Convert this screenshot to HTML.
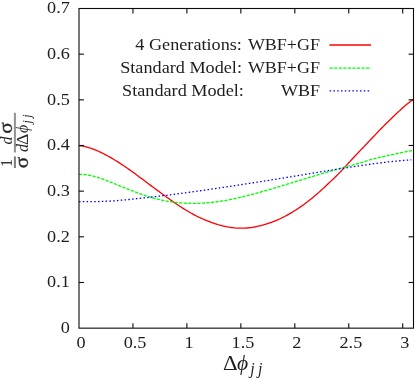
<!DOCTYPE html>
<html><head><meta charset="utf-8"><style>
html,body{margin:0;padding:0;background:#fff;}
svg{display:block;font-family:"Liberation Serif",serif;}
</style></head><body>
<svg width="415" height="379" viewBox="0 0 415 379">
<rect width="415" height="379" fill="#fff"/>
<g fill="none" stroke-width="1.3" stroke-linecap="butt">
<path d="M79.00,145.60 L80.29,145.73 L81.58,145.91 L82.87,146.13 L84.16,146.39 L85.45,146.68 L86.74,147.02 L88.04,147.39 L89.33,147.78 L90.62,148.21 L91.91,148.65 L93.20,149.13 L94.49,149.63 L95.78,150.15 L97.07,150.69 L98.36,151.25 L99.65,151.84 L100.94,152.44 L102.23,153.07 L103.52,153.71 L104.81,154.37 L106.11,155.05 L107.40,155.75 L108.69,156.46 L109.98,157.19 L111.27,157.93 L112.56,158.68 L113.85,159.45 L115.14,160.24 L116.43,161.03 L117.72,161.84 L119.01,162.66 L120.30,163.50 L121.59,164.34 L122.88,165.20 L124.18,166.06 L125.47,166.94 L126.76,167.83 L128.05,168.73 L129.34,169.63 L130.63,170.55 L131.92,171.47 L133.21,172.40 L134.50,173.34 L135.79,174.28 L137.08,175.24 L138.37,176.19 L139.66,177.15 L140.96,178.11 L142.25,179.08 L143.54,180.05 L144.83,181.02 L146.12,181.99 L147.41,182.96 L148.70,183.93 L149.99,184.89 L151.28,185.86 L152.57,186.82 L153.86,187.78 L155.15,188.74 L156.44,189.69 L157.73,190.64 L159.03,191.59 L160.32,192.53 L161.61,193.47 L162.90,194.41 L164.19,195.34 L165.48,196.27 L166.77,197.19 L168.06,198.12 L169.35,199.04 L170.64,199.96 L171.93,200.87 L173.22,201.78 L174.51,202.68 L175.81,203.58 L177.10,204.46 L178.39,205.33 L179.68,206.19 L180.97,207.03 L182.26,207.86 L183.55,208.67 L184.84,209.46 L186.13,210.25 L187.42,211.01 L188.71,211.76 L190.00,212.50 L191.29,213.23 L192.58,213.93 L193.88,214.63 L195.17,215.31 L196.46,215.97 L197.75,216.62 L199.04,217.24 L200.33,217.85 L201.62,218.45 L202.91,219.02 L204.20,219.58 L205.49,220.12 L206.78,220.65 L208.07,221.16 L209.36,221.66 L210.65,222.15 L211.95,222.62 L213.24,223.08 L214.53,223.52 L215.82,223.95 L217.11,224.36 L218.40,224.75 L219.69,225.11 L220.98,225.46 L222.27,225.79 L223.56,226.09 L224.85,226.37 L226.14,226.63 L227.43,226.88 L228.73,227.10 L230.02,227.30 L231.31,227.49 L232.60,227.65 L233.89,227.80 L235.18,227.93 L236.47,228.03 L237.76,228.11 L239.05,228.17 L240.34,228.21 L241.63,228.22 L242.92,228.21 L244.21,228.17 L245.50,228.11 L246.80,228.02 L248.09,227.91 L249.38,227.77 L250.67,227.61 L251.96,227.43 L253.25,227.22 L254.54,227.00 L255.83,226.75 L257.12,226.47 L258.41,226.18 L259.70,225.87 L260.99,225.55 L262.28,225.20 L263.57,224.84 L264.87,224.46 L266.16,224.07 L267.45,223.66 L268.74,223.23 L270.03,222.79 L271.32,222.34 L272.61,221.87 L273.90,221.38 L275.19,220.87 L276.48,220.35 L277.77,219.80 L279.06,219.23 L280.35,218.63 L281.65,218.01 L282.94,217.37 L284.23,216.71 L285.52,216.02 L286.81,215.32 L288.10,214.59 L289.39,213.85 L290.68,213.10 L291.97,212.33 L293.26,211.55 L294.55,210.75 L295.84,209.94 L297.13,209.11 L298.42,208.26 L299.72,207.39 L301.01,206.51 L302.30,205.60 L303.59,204.68 L304.88,203.73 L306.17,202.77 L307.46,201.79 L308.75,200.79 L310.04,199.77 L311.33,198.73 L312.62,197.67 L313.91,196.60 L315.20,195.51 L316.49,194.40 L317.79,193.27 L319.08,192.13 L320.37,190.97 L321.66,189.79 L322.95,188.61 L324.24,187.41 L325.53,186.20 L326.82,184.99 L328.11,183.78 L329.40,182.56 L330.69,181.35 L331.98,180.13 L333.27,178.92 L334.57,177.69 L335.86,176.44 L337.15,175.18 L338.44,173.90 L339.73,172.58 L341.02,171.23 L342.31,169.86 L343.60,168.46 L344.89,167.04 L346.18,165.61 L347.47,164.18 L348.76,162.76 L350.05,161.34 L351.34,159.94 L352.64,158.55 L353.93,157.18 L355.22,155.81 L356.51,154.46 L357.80,153.10 L359.09,151.75 L360.38,150.40 L361.67,149.05 L362.96,147.70 L364.25,146.35 L365.54,144.99 L366.83,143.64 L368.12,142.28 L369.42,140.92 L370.71,139.55 L372.00,138.19 L373.29,136.82 L374.58,135.46 L375.87,134.10 L377.16,132.75 L378.45,131.40 L379.74,130.07 L381.03,128.74 L382.32,127.43 L383.61,126.12 L384.90,124.83 L386.19,123.54 L387.49,122.26 L388.78,121.00 L390.07,119.73 L391.36,118.48 L392.65,117.24 L393.94,116.00 L395.23,114.77 L396.52,113.55 L397.81,112.34 L399.10,111.13 L400.39,109.94 L401.68,108.75 L402.97,107.58 L404.26,106.44 L405.56,105.33 L406.85,104.25 L408.14,103.21 L409.43,102.22 L410.72,101.29 L412.01,100.40 L413.30,99.53" stroke="#ff0000"/>
<path d="M79.00,174.35 L80.29,174.31 L81.58,174.32 L82.87,174.38 L84.16,174.48 L85.45,174.62 L86.74,174.81 L88.03,175.02 L89.32,175.27 L90.61,175.54 L91.90,175.83 L93.19,176.15 L94.47,176.49 L95.76,176.85 L97.05,177.23 L98.34,177.63 L99.63,178.05 L100.92,178.48 L102.21,178.92 L103.50,179.38 L104.79,179.85 L106.08,180.34 L107.37,180.83 L108.66,181.34 L109.95,181.85 L111.24,182.37 L112.53,182.89 L113.82,183.42 L115.11,183.96 L116.40,184.49 L117.69,185.03 L118.98,185.57 L120.27,186.10 L121.56,186.63 L122.85,187.15 L124.14,187.68 L125.42,188.19 L126.71,188.71 L128.00,189.22 L129.29,189.72 L130.58,190.22 L131.87,190.71 L133.16,191.20 L134.45,191.69 L135.74,192.17 L137.03,192.65 L138.32,193.12 L139.61,193.59 L140.90,194.06 L142.19,194.52 L143.48,194.97 L144.77,195.42 L146.06,195.85 L147.35,196.28 L148.64,196.69 L149.93,197.09 L151.22,197.47 L152.51,197.84 L153.80,198.19 L155.08,198.52 L156.37,198.85 L157.66,199.16 L158.95,199.46 L160.24,199.75 L161.53,200.03 L162.82,200.30 L164.11,200.56 L165.40,200.82 L166.69,201.06 L167.98,201.29 L169.27,201.50 L170.56,201.71 L171.85,201.91 L173.14,202.09 L174.43,202.26 L175.72,202.42 L177.01,202.56 L178.30,202.70 L179.59,202.82 L180.88,202.94 L182.17,203.04 L183.46,203.13 L184.75,203.21 L186.03,203.27 L187.32,203.33 L188.61,203.37 L189.90,203.41 L191.19,203.43 L192.48,203.44 L193.77,203.44 L195.06,203.43 L196.35,203.41 L197.64,203.38 L198.93,203.34 L200.22,203.29 L201.51,203.22 L202.80,203.15 L204.09,203.07 L205.38,202.98 L206.67,202.88 L207.96,202.77 L209.25,202.65 L210.54,202.52 L211.83,202.38 L213.12,202.23 L214.41,202.07 L215.69,201.91 L216.98,201.74 L218.27,201.56 L219.56,201.37 L220.85,201.17 L222.14,200.96 L223.43,200.75 L224.72,200.53 L226.01,200.30 L227.30,200.07 L228.59,199.82 L229.88,199.58 L231.17,199.32 L232.46,199.06 L233.75,198.79 L235.04,198.52 L236.33,198.24 L237.62,197.95 L238.91,197.66 L240.20,197.36 L241.49,197.06 L242.78,196.75 L244.07,196.44 L245.36,196.12 L246.64,195.80 L247.93,195.47 L249.22,195.14 L250.51,194.81 L251.80,194.47 L253.09,194.13 L254.38,193.78 L255.67,193.43 L256.96,193.08 L258.25,192.72 L259.54,192.36 L260.83,192.00 L262.12,191.64 L263.41,191.27 L264.70,190.90 L265.99,190.53 L267.28,190.15 L268.57,189.78 L269.86,189.40 L271.15,189.02 L272.44,188.64 L273.73,188.25 L275.02,187.87 L276.31,187.48 L277.59,187.09 L278.88,186.71 L280.17,186.32 L281.46,185.93 L282.75,185.53 L284.04,185.14 L285.33,184.75 L286.62,184.36 L287.91,183.96 L289.20,183.57 L290.49,183.18 L291.78,182.78 L293.07,182.39 L294.36,181.99 L295.65,181.60 L296.94,181.21 L298.23,180.81 L299.52,180.42 L300.81,180.03 L302.10,179.63 L303.39,179.24 L304.68,178.85 L305.97,178.46 L307.25,178.07 L308.54,177.68 L309.83,177.29 L311.12,176.90 L312.41,176.51 L313.70,176.13 L314.99,175.74 L316.28,175.36 L317.57,174.97 L318.86,174.59 L320.15,174.21 L321.44,173.83 L322.73,173.45 L324.02,173.07 L325.31,172.69 L326.60,172.31 L327.89,171.94 L329.18,171.56 L330.47,171.19 L331.76,170.82 L333.05,170.45 L334.34,170.08 L335.63,169.71 L336.92,169.35 L338.20,168.98 L339.49,168.61 L340.78,168.25 L342.07,167.88 L343.36,167.51 L344.65,167.15 L345.94,166.79 L347.23,166.43 L348.52,166.08 L349.81,165.73 L351.10,165.39 L352.39,165.05 L353.68,164.71 L354.97,164.37 L356.26,164.02 L357.55,163.67 L358.84,163.30 L360.13,162.92 L361.42,162.53 L362.71,162.13 L364.00,161.71 L365.29,161.30 L366.58,160.89 L367.86,160.48 L369.15,160.08 L370.44,159.70 L371.73,159.33 L373.02,158.98 L374.31,158.64 L375.60,158.31 L376.89,157.99 L378.18,157.69 L379.47,157.39 L380.76,157.10 L382.05,156.81 L383.34,156.53 L384.63,156.25 L385.92,155.97 L387.21,155.70 L388.50,155.42 L389.79,155.15 L391.08,154.87 L392.37,154.59 L393.66,154.32 L394.95,154.04 L396.24,153.76 L397.53,153.48 L398.81,153.21 L400.10,152.94 L401.39,152.67 L402.68,152.40 L403.97,152.14 L405.26,151.88 L406.55,151.63 L407.84,151.39 L409.13,151.15 L410.42,150.92 L411.71,150.70 L413.00,150.48" stroke="#00ff00" stroke-dasharray="3.2 1.35"/>
<path d="M79.00,201.62 L80.28,201.62 L81.57,201.63 L82.85,201.63 L84.13,201.63 L85.42,201.63 L86.70,201.63 L87.98,201.63 L89.26,201.63 L90.55,201.62 L91.83,201.61 L93.11,201.60 L94.40,201.59 L95.68,201.58 L96.96,201.56 L98.25,201.53 L99.53,201.50 L100.81,201.46 L102.09,201.42 L103.38,201.37 L104.66,201.32 L105.94,201.26 L107.23,201.20 L108.51,201.13 L109.79,201.06 L111.08,200.98 L112.36,200.90 L113.64,200.82 L114.92,200.73 L116.21,200.64 L117.49,200.54 L118.77,200.44 L120.06,200.33 L121.34,200.22 L122.62,200.11 L123.91,199.99 L125.19,199.86 L126.47,199.74 L127.75,199.61 L129.04,199.48 L130.32,199.34 L131.60,199.21 L132.89,199.07 L134.17,198.93 L135.45,198.79 L136.74,198.65 L138.02,198.51 L139.30,198.37 L140.58,198.24 L141.87,198.10 L143.15,197.96 L144.43,197.82 L145.72,197.68 L147.00,197.55 L148.28,197.41 L149.57,197.27 L150.85,197.12 L152.13,196.98 L153.41,196.83 L154.70,196.68 L155.98,196.53 L157.26,196.38 L158.55,196.22 L159.83,196.07 L161.11,195.91 L162.40,195.76 L163.68,195.60 L164.96,195.44 L166.24,195.28 L167.53,195.12 L168.81,194.96 L170.09,194.80 L171.38,194.63 L172.66,194.47 L173.94,194.30 L175.23,194.14 L176.51,193.97 L177.79,193.80 L179.07,193.63 L180.36,193.46 L181.64,193.29 L182.92,193.12 L184.21,192.95 L185.49,192.77 L186.77,192.60 L188.06,192.43 L189.34,192.25 L190.62,192.07 L191.91,191.90 L193.19,191.72 L194.47,191.54 L195.75,191.36 L197.04,191.18 L198.32,191.00 L199.60,190.82 L200.89,190.64 L202.17,190.46 L203.45,190.28 L204.74,190.09 L206.02,189.91 L207.30,189.72 L208.58,189.54 L209.87,189.35 L211.15,189.17 L212.43,188.98 L213.72,188.79 L215.00,188.61 L216.28,188.42 L217.57,188.23 L218.85,188.04 L220.13,187.85 L221.41,187.66 L222.70,187.47 L223.98,187.28 L225.26,187.08 L226.55,186.89 L227.83,186.70 L229.11,186.51 L230.40,186.31 L231.68,186.12 L232.96,185.92 L234.24,185.73 L235.53,185.53 L236.81,185.34 L238.09,185.14 L239.38,184.94 L240.66,184.75 L241.94,184.55 L243.23,184.35 L244.51,184.15 L245.79,183.95 L247.07,183.75 L248.36,183.55 L249.64,183.35 L250.92,183.15 L252.21,182.95 L253.49,182.75 L254.77,182.55 L256.06,182.35 L257.34,182.15 L258.62,181.94 L259.90,181.74 L261.19,181.54 L262.47,181.33 L263.75,181.13 L265.04,180.93 L266.32,180.72 L267.60,180.52 L268.89,180.31 L270.17,180.11 L271.45,179.90 L272.73,179.69 L274.02,179.49 L275.30,179.28 L276.58,179.07 L277.87,178.87 L279.15,178.66 L280.43,178.45 L281.72,178.24 L283.00,178.03 L284.28,177.82 L285.56,177.62 L286.85,177.41 L288.13,177.20 L289.41,176.99 L290.70,176.78 L291.98,176.57 L293.26,176.36 L294.55,176.15 L295.83,175.94 L297.11,175.73 L298.39,175.52 L299.68,175.31 L300.96,175.10 L302.24,174.89 L303.53,174.68 L304.81,174.47 L306.09,174.26 L307.38,174.05 L308.66,173.84 L309.94,173.62 L311.23,173.41 L312.51,173.20 L313.79,172.99 L315.07,172.78 L316.36,172.57 L317.64,172.36 L318.92,172.15 L320.21,171.94 L321.49,171.73 L322.77,171.53 L324.06,171.32 L325.34,171.11 L326.62,170.90 L327.90,170.69 L329.19,170.49 L330.47,170.28 L331.75,170.07 L333.04,169.87 L334.32,169.66 L335.60,169.45 L336.89,169.25 L338.17,169.05 L339.45,168.84 L340.73,168.64 L342.02,168.44 L343.30,168.24 L344.58,168.04 L345.87,167.84 L347.15,167.64 L348.43,167.44 L349.72,167.24 L351.00,167.05 L352.28,166.85 L353.56,166.66 L354.85,166.46 L356.13,166.27 L357.41,166.08 L358.70,165.89 L359.98,165.70 L361.26,165.51 L362.55,165.33 L363.83,165.14 L365.11,164.96 L366.39,164.78 L367.68,164.60 L368.96,164.42 L370.24,164.24 L371.53,164.07 L372.81,163.89 L374.09,163.72 L375.38,163.55 L376.66,163.38 L377.94,163.22 L379.22,163.06 L380.51,162.89 L381.79,162.73 L383.07,162.58 L384.36,162.42 L385.64,162.27 L386.92,162.12 L388.21,161.97 L389.49,161.83 L390.77,161.68 L392.05,161.54 L393.34,161.41 L394.62,161.27 L395.90,161.14 L397.19,161.01 L398.47,160.89 L399.75,160.77 L401.04,160.65 L402.32,160.53 L403.60,160.42 L404.88,160.31 L406.17,160.21 L407.45,160.11 L408.73,160.01 L410.02,159.92 L411.30,159.83" stroke="#0000ff" stroke-dasharray="1.5 2.3"/>
<line x1="329.4" y1="45" x2="371" y2="45" stroke="#ff0000"/>
<line x1="329.6" y1="68.2" x2="371" y2="68.2" stroke="#00ff00" stroke-dasharray="3.2 1.35"/>
<line x1="329.6" y1="90.9" x2="369.4" y2="90.9" stroke="#0000ff" stroke-dasharray="1.5 2.3"/>
</g>
<g stroke="#0a0a0a" stroke-width="1.1" fill="none">
<rect x="79.0" y="8.5" width="334.50" height="319.65"/>
<line x1="79.0" y1="282.49" x2="83.9" y2="282.49"/><line x1="413.5" y1="282.49" x2="408.6" y2="282.49"/>
<line x1="79.0" y1="236.82" x2="83.9" y2="236.82"/><line x1="413.5" y1="236.82" x2="408.6" y2="236.82"/>
<line x1="79.0" y1="191.16" x2="83.9" y2="191.16"/><line x1="413.5" y1="191.16" x2="408.6" y2="191.16"/>
<line x1="79.0" y1="145.49" x2="83.9" y2="145.49"/><line x1="413.5" y1="145.49" x2="408.6" y2="145.49"/>
<line x1="79.0" y1="99.83" x2="83.9" y2="99.83"/><line x1="413.5" y1="99.83" x2="408.6" y2="99.83"/>
<line x1="79.0" y1="54.16" x2="83.9" y2="54.16"/><line x1="413.5" y1="54.16" x2="408.6" y2="54.16"/>
<line x1="132.95" y1="328.15" x2="132.95" y2="323.25"/><line x1="132.95" y1="8.5" x2="132.95" y2="13.4"/>
<line x1="186.90" y1="328.15" x2="186.90" y2="323.25"/><line x1="186.90" y1="8.5" x2="186.90" y2="13.4"/>
<line x1="240.85" y1="328.15" x2="240.85" y2="323.25"/><line x1="240.85" y1="8.5" x2="240.85" y2="13.4"/>
<line x1="294.81" y1="328.15" x2="294.81" y2="323.25"/><line x1="294.81" y1="8.5" x2="294.81" y2="13.4"/>
<line x1="348.76" y1="328.15" x2="348.76" y2="323.25"/><line x1="348.76" y1="8.5" x2="348.76" y2="13.4"/>
<line x1="402.71" y1="328.15" x2="402.71" y2="323.25"/><line x1="402.71" y1="8.5" x2="402.71" y2="13.4"/>
</g>
<defs><filter id="ga" filterUnits="userSpaceOnUse" x="0" y="0" width="415" height="379"><feOffset dx="0" dy="0"/></filter></defs>
<g filter="url(#ga)">
<g font-size="18.2px" fill="#1e1e1e">
<text transform="translate(69.80,333.05) scale(1,0.965)" text-anchor="end">0</text>
<text transform="translate(69.80,287.39) scale(1,0.965)" text-anchor="end">0.1</text>
<text transform="translate(69.80,241.72) scale(1,0.965)" text-anchor="end">0.2</text>
<text transform="translate(69.80,196.06) scale(1,0.965)" text-anchor="end">0.3</text>
<text transform="translate(69.80,150.39) scale(1,0.965)" text-anchor="end">0.4</text>
<text transform="translate(69.80,104.73) scale(1,0.965)" text-anchor="end">0.5</text>
<text transform="translate(69.80,59.06) scale(1,0.965)" text-anchor="end">0.6</text>
<text transform="translate(69.80,13.40) scale(1,0.965)" text-anchor="end">0.7</text>
<text transform="translate(81.10,347.50) scale(1,0.965)" text-anchor="middle">0</text>
<text transform="translate(135.05,347.50) scale(1,0.965)" text-anchor="middle">0.5</text>
<text transform="translate(189.00,347.50) scale(1,0.965)" text-anchor="middle">1</text>
<text transform="translate(242.95,347.50) scale(1,0.965)" text-anchor="middle">1.5</text>
<text transform="translate(296.91,347.50) scale(1,0.965)" text-anchor="middle">2</text>
<text transform="translate(350.86,347.50) scale(1,0.965)" text-anchor="middle">2.5</text>
<text transform="translate(404.81,347.50) scale(1,0.965)" text-anchor="middle">3</text>

<text transform="translate(135.30,50.20) scale(1,0.965)" text-anchor="start">4 Generations:</text>
<text transform="translate(320.00,50.20) scale(1,0.965)" text-anchor="end" font-size="18.0px">WBF+GF</text>
<text transform="translate(120.20,72.90) scale(1,0.965)" text-anchor="start">Standard Model:</text>
<text transform="translate(320.00,72.90) scale(1,0.965)" text-anchor="end" font-size="18.0px">WBF+GF</text>
<text transform="translate(122.10,95.90) scale(1,0.965)" text-anchor="start">Standard Model:</text>
<text transform="translate(320.00,95.90) scale(1,0.965)" text-anchor="end" font-size="18.0px">WBF</text>

</g>
<g fill="#1e1e1e">
<text transform="translate(223.1,370.3) scale(1.05,1)" font-size="21.6px">Δ</text>
<text x="237" y="370.3" font-size="21.5px" font-style="italic">ϕ</text>
<text x="250.2" y="373.9" font-size="15.8px" font-style="italic">j</text>
<text x="258.0" y="373.9" font-size="15.8px" font-style="italic">j</text>
</g>
<g transform="translate(14.9,168.0) rotate(-90)" fill="#1e1e1e">
<text transform="translate(5.00,-3.40) scale(1,1)" font-size="16px" text-anchor="middle">1</text>
<text transform="translate(5.50,13.45) scale(1.18,1.0)" font-size="18px" text-anchor="middle" stroke="#1e1e1e" stroke-width="0.3">σ</text>
<text transform="translate(27.60,-3.40) scale(1,1)" font-size="16px" text-anchor="middle" font-style="italic">d</text>
<text transform="translate(40.00,-3.40) scale(1.18,1.0)" font-size="18px" text-anchor="middle" stroke="#1e1e1e" stroke-width="0.3">σ</text>
<text transform="translate(20.00,13.45) scale(1,1)" font-size="16px" text-anchor="middle" font-style="italic">d</text>
<text transform="translate(28.70,13.45) scale(1.1,1.0)" font-size="16px" text-anchor="middle">Δ</text>
<text transform="translate(39.00,13.45) scale(1,1)" font-size="15.9px" text-anchor="middle" font-style="italic">ϕ</text>
<text transform="translate(46.20,15.75) scale(1,1)" font-size="12px" text-anchor="middle" font-style="italic">j</text>
<text transform="translate(52.00,15.75) scale(1,1)" font-size="12px" text-anchor="middle" font-style="italic">j</text>

<g stroke="#222" stroke-width="1.2"><line x1="0" y1="0" x2="11.6" y2="0"/><line x1="15.5" y1="0" x2="55.2" y2="0"/></g>
</g>
</g>
</svg>
</body></html>
